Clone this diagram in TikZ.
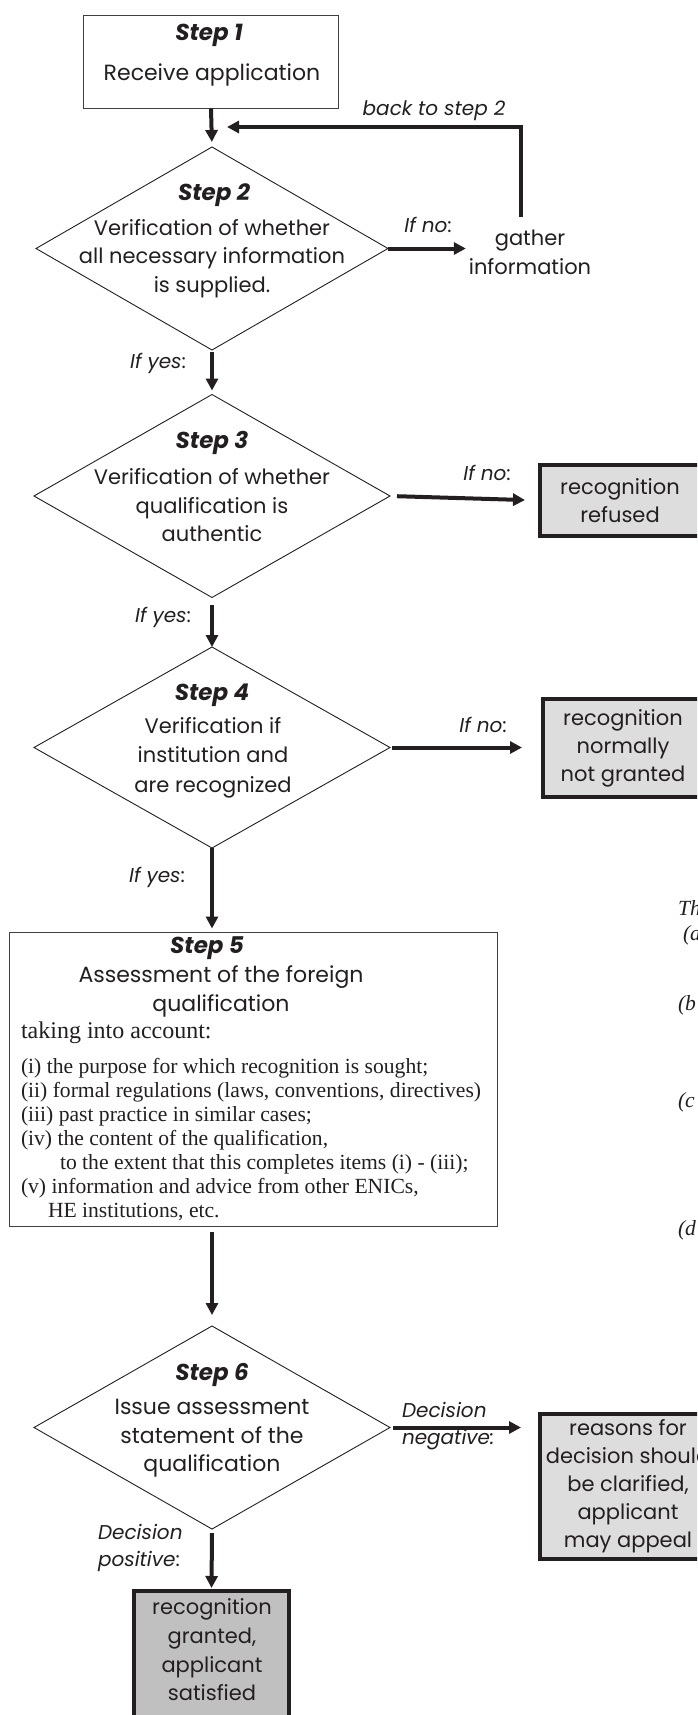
\documentclass[tikz,border=0pt]{standalone}
\usepackage{fontspec}
\setmainfont{Liberation Serif}
\newfontfamily\gothic{Poppins}
\usetikzlibrary{shapes.geometric,arrows.meta}
\definecolor{ink}{HTML}{231F20}
\definecolor{lightfill}{HTML}{DDDDDD}
\definecolor{darkfill}{HTML}{C0C0C0}
\newcommand\stepfont{\gothic\bfseries\itshape\fontsize{23}{26}\selectfont}
\begin{document}
\begin{tikzpicture}[x=1pt,y=-1pt,
  every node/.style={inner sep=0pt,outer sep=0pt,text=ink},
  dia/.style={shape=diamond,draw=ink,line width=0.9pt,minimum width=356pt,minimum height=203pt,inner sep=0pt},
  thinbox/.style={rectangle,draw=black!75,line width=1.2pt},
  graybox/.style={rectangle,draw=ink,line width=4pt,fill=lightfill,align=center,
     font=\gothic\fontsize{21}{28}\selectfont},
  arr/.style={draw=ink,line width=4pt,-{Triangle[length=12pt,width=12pt]}},
  gtext/.style={align=center,font=\gothic\fontsize{21}{28.5}\selectfont},
  ftext/.style={align=center,font=\gothic\fontsize{22}{29}\selectfont},
  steplabel/.style={font=\stepfont},
  lbl/.style={font=\gothic\itshape\fontsize{20}{27}\selectfont},
  lblup/.style={font=\gothic\fontsize{20}{27}\selectfont},
  serif/.style={font=\fontsize{21.6}{24}\selectfont,align=left},
  cut/.style={font=\itshape\fontsize{21.6}{24}\selectfont,anchor=west}
]
\useasboundingbox (0,0) rectangle (697,1715);
\fill[white] (0,0) rectangle (697,1715);
\clip (0,0) rectangle (697,1715);

% ---------- Step 1
\node[thinbox,minimum width=255pt,minimum height=93pt] (s1) at (211,62) {};
\node[steplabel] (s1s) at (209,35) {Step 1};
\node[ftext] (s1t) at (212,75) {Receive application};

% ---------- Step 2
\node[dia,minimum width=352pt] (d2) at (212,248.5) {};
\node[steplabel] (d2s) at (214,195) {Step 2};
\node[gtext] (d2t) at (212,258.5) {Verification of whether\\all necessary information\\is supplied.};

\node[gtext] (gather) at (530,252.5) {gather\\information};
\node[lbl] (back) at (434,111) {back to step 2};
\node[lblup] (no2) at (428,225) {\itshape If no\upshape:};
\coordinate (loopin) at (227,127);

% ---------- Step 3
\node[dia] (d3) at (212,496) {};
\node[steplabel] (d3s) at (212,443) {Step 3};
\node[gtext] (d3t) at (212,505.5) {Verification of whether\\qualification is\\authentic};
\node[lblup] (yes2) at (158,363) {\itshape If yes\upshape:};
\node[lblup] (no3) at (487,473) {\itshape If no\upshape:};
\node[graybox,minimum width=160pt,minimum height=71pt] (refused) at (620,500.5) {recognition\\refused};

% ---------- Step 4
\node[dia,minimum height=201pt] (d4) at (212,747.5) {};
\node[steplabel] (d4s) at (212,695) {Step 4};
\node[gtext,font=\gothic\fontsize{21}{29.5}\selectfont] (d4t) at (213,757.5) {Verification if\\institution and\\are recognized};
\node[lblup] (yes3) at (163,617) {\itshape If yes\upshape:};
\node[lblup] (no4) at (483,725) {\itshape If no\upshape:};
\node[graybox,minimum width=160pt,minimum height=98pt] (notgr) at (623,748) {recognition\\normally\\not granted};

% ---------- Step 5
\node[thinbox,minimum width=488pt,minimum height=294pt] (s5) at (253.5,1079.5) {};
\node[lblup] (yes4) at (157,877) {\itshape If yes\upshape:};
\node[steplabel] (s5s) at (207,948) {Step 5};
\node[ftext] (s5t) at (221,991.5) {Assessment of the foreign\\qualification};
\node[anchor=west,font=\fontsize{24}{26}\selectfont] (s5a) at (21,1033) {taking into account:};
\node[serif,anchor=west] (s5l) at (21,1140) {(i) the purpose for which recognition is sought;\\
(ii) formal regulations (laws, conventions, directives)\\
(iii) past practice in similar cases;\\
(iv) the content of the qualification,\\
\hspace*{39pt}to the extent that this completes items (i) - (iii);\\
(v) information and advice from other ENICs,\\
\hspace*{27pt}HE institutions, etc.};

% clipped text at the right edge
\node[cut] (c0) at (678,908) {Th};
\node[cut] (c1) at (683,935) {(a};
\node[cut] (c2) at (678,1005) {(b};
\node[cut] (c3) at (678,1102) {(c};
\node[cut] (c4) at (678,1230) {(d};

% ---------- Step 6
\node[dia] (d6) at (212,1427.5) {};
\node[steplabel] (d6s) at (212,1375) {Step 6};
\node[ftext,font=\gothic\fontsize{22}{28.5}\selectfont] (d6t) at (212,1438.5) {Issue assessment\\statement of the\\qualification};
\node[lbl,align=left,anchor=west] (neg) at (402,1426) {Decision\\negative:};
\node[lblup,align=left,anchor=west] (pos) at (98,1547.5) {\itshape Decision\\\itshape positive\upshape:};
\node[graybox,minimum width=176pt,minimum height=145pt] (reasons) at (628,1486.5) {reasons for\\decision should\\be clarified,\\applicant\\may appeal};
\node[graybox,fill=darkfill,minimum width=155pt,minimum height=169pt] (granted) at (211.5,1675.5) {};
\node[gtext,font=\gothic\fontsize{21}{28.7}\selectfont] (grantedt) at (212,1650) {recognition\\granted,\\applicant\\satisfied};

% ---------- connectors
\draw[arr,shorten >=5pt] (s1.south) -- (d2.north);
\draw[arr,shorten >=3pt] (d2.east) -- (d2.east -| gather.west);
\draw[arr] ([shift={(-9,-13)}]gather.north) |- (loopin);
\draw[arr,shorten <=2pt,shorten >=4pt] (d2.south) -- (d3.north);
\draw[arr,shorten <=7pt,shorten >=15pt] (d3.east) -- (refused.west);
\draw[arr,shorten <=7pt] (d3.south) -- (d4.north);
\draw[arr,shorten <=2pt,shorten >=21pt] (d4.east) -- (d4.east -| notgr.west);
\draw[arr,shorten >=4pt] (d4.south) -- (d4.south |- s5.north);
\draw[arr,shorten <=5pt,shorten >=11pt] (d6.north |- s5.south) -- (d6.north);
\draw[arr,shorten <=3pt,shorten >=19pt] (d6.east) -- (d6.east -| reasons.west);
\draw[arr,shorten <=4pt,shorten >=3pt] (d6.south) -- (granted.north);
\end{tikzpicture}
\end{document}
